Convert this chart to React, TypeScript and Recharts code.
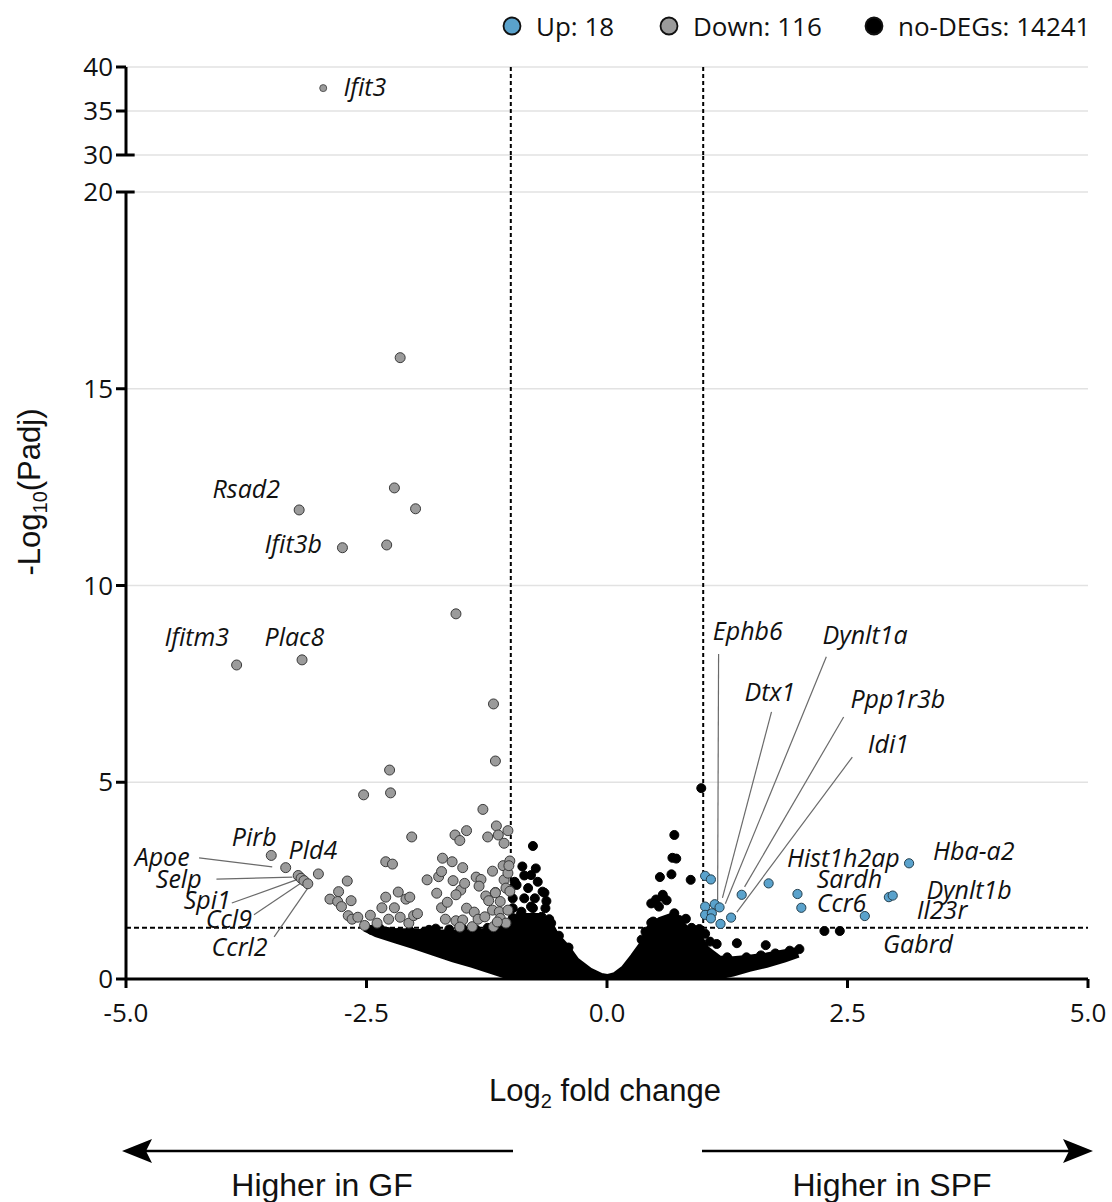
import React from 'react';
import { ComposedChart, Scatter, Area, XAxis, YAxis, CartesianGrid, ReferenceLine } from 'recharts';

// axis ticks
const xTicks = [-5, -2.5, 0, 2.5, 5];
const lowerYTicks = [0, 5, 10, 15, 20];
const upperYTicks = [30, 35, 40];

// significant genes, [log2FC, -log10 padj]
const upGenes: [number, number][] = [
    [1.02, 2.62], [1.08, 2.53], [1.02, 1.84], [1.12, 1.9], [1.17, 1.82], [1.02, 1.63], [1.09, 1.67],
    [1.08, 1.54], [1.18, 1.4], [1.29, 1.56], [1.4, 2.14], [1.68, 2.43], [1.98, 2.16], [2.02, 1.81],
    [2.68, 1.6], [2.93, 2.08], [2.97, 2.12], [3.14, 2.94],
];

const downGenesTop: [number, number][] = [[-2.95, 37.6]];

const downGenes: [number, number][] = [
    [-2.15, 15.79], [-2.21, 12.48], [-3.2, 11.92], [-1.99, 11.95], [-2.75, 10.96], [-2.29, 11.03],
    [-1.57, 9.28], [-3.85, 7.98], [-3.17, 8.11], [-1.18, 6.99], [-1.16, 5.54], [-2.26, 5.31],
    [-2.25, 4.73], [-2.53, 4.68], [-1.29, 4.31], [-1.15, 3.89], [-1.46, 3.77], [-1.58, 3.66],
    [-1.53, 3.52], [-2.03, 3.61], [-1.24, 3.61], [-1.13, 3.66], [-1.03, 3.77], [-1.07, 3.45],
    [-3.49, 3.14], [-3.34, 2.83], [-3.21, 2.63], [-3.18, 2.56], [-3.15, 2.5], [-3.11, 2.42], [-3.0, 2.67],
    [-2.3, 2.98], [-2.23, 2.92], [-1.71, 3.07], [-1.61, 2.98], [-1.5, 2.83], [-1.19, 2.74], [-1.08, 2.88],
    [-1.01, 3.0], [-2.7, 2.49], [-2.79, 2.22], [-2.88, 2.03], [-2.8, 1.97], [-2.76, 1.84], [-2.66, 1.99],
    [-2.69, 1.61], [-2.65, 1.52], [-2.59, 1.57], [-2.52, 1.36], [-2.46, 1.62], [-2.39, 1.42], [-2.27, 1.52],
    [-2.3, 2.08], [-2.34, 1.81], [-2.21, 1.81], [-2.17, 2.21], [-2.09, 2.03], [-2.05, 2.08], [-2.15, 1.57],
    [-2.06, 1.42], [-2.01, 1.61], [-1.97, 1.66], [-1.87, 2.52], [-1.75, 2.6], [-1.72, 2.73], [-1.77, 2.18],
    [-1.72, 1.81], [-1.66, 1.95], [-1.68, 1.52], [-1.6, 2.5], [-1.52, 2.26], [-1.57, 2.14], [-1.48, 2.43],
    [-1.46, 1.8], [-1.57, 1.48], [-1.5, 1.5], [-1.53, 1.32], [-1.4, 1.33], [-1.38, 1.7], [-1.34, 1.52],
    [-1.36, 2.59], [-1.31, 2.53], [-1.33, 2.36], [-1.26, 2.11], [-1.23, 1.99], [-1.19, 1.75], [-1.27, 1.58],
    [-1.16, 2.2], [-1.11, 1.97], [-1.12, 1.71], [-1.18, 1.33], [-1.07, 2.52], [-1.05, 2.31], [-1.03, 2.69],
    [-1.11, 1.54], [-1.05, 1.42], [-1.16, 2.19], [-1.02, 2.88], [-1.01, 2.23], [-1.03, 1.75], [-1.14, 1.45],
];

// dense body of the non-significant genes: x, lower and upper edge
const noDegX = [-2.52, -2.4, -2.2, -2.0, -1.8, -1.6, -1.4, -1.2, -1.05, -0.95, -0.85, -0.7, -0.6, -0.53, -0.42, -0.32, -0.18, -0.06, 0, 0.08, 0.17, 0.27, 0.37, 0.44, 0.55, 0.69, 0.76, 0.86, 0.96, 1.03, 1.17, 1.31, 1.48, 1.66, 1.85, 1.99];
const noDegLow = [1.28, 1.14, 0.98, 0.83, 0.66, 0.5, 0.36, 0.2, 0.08, 0.03, 0, 0, 0, 0, 0, 0, 0, 0, 0, 0, 0, 0, 0, 0, 0, 0, 0, 0, 0, 0.01, 0.07, 0.14, 0.26, 0.36, 0.5, 0.62];
const noDegHigh = [1.3, 1.28, 1.22, 1.2, 1.18, 1.18, 1.18, 1.22, 1.3, 1.5, 1.6, 1.6, 1.45, 1.12, 0.82, 0.48, 0.22, 0.08, 0.05, 0.1, 0.26, 0.57, 0.91, 1.3, 1.5, 1.62, 1.45, 1.18, 1.08, 0.78, 0.52, 0.5, 0.54, 0.6, 0.68, 0.74];

// scattered non-significant genes around the body
const noDegGenes: [number, number][] = [
    [-2.45, 1.25], [-2.3, 1.2], [-2.16, 1.18], [-2.05, 1.22], [-1.95, 1.05], [-1.85, 1.25], [-1.72, 1.05],
    [-1.64, 1.26], [-1.55, 1.1], [-1.46, 1.05], [-1.36, 1.25], [-1.29, 1.1], [-1.24, 1.3], [-1.15, 1.18],
    [-1.08, 1.28], [-0.77, 3.38], [-0.88, 2.86], [-0.74, 2.81], [-0.86, 2.63], [-0.79, 2.64], [-0.72, 2.47],
    [-0.94, 2.39], [-0.82, 2.31], [-0.67, 2.22], [-0.98, 2.05], [-0.86, 2.05], [-0.75, 2.05], [-0.63, 1.98],
    [-0.77, 1.8], [-0.64, 1.8], [-0.98, 1.8], [-0.89, 1.71], [-0.68, 1.58], [-0.6, 1.52], [-0.98, 1.55],
    [-0.96, 2.47], [-0.65, 2.19], [-0.79, 1.84], [-0.58, 1.42], [-0.9, 1.62], [-0.5, 1.1], [-0.4, 0.8],
    [0.98, 4.85], [0.7, 3.66], [0.68, 3.08], [0.72, 3.06], [0.55, 2.59], [0.67, 2.66], [0.87, 2.52],
    [0.58, 2.09], [0.51, 2.02], [0.46, 1.92], [0.54, 1.84], [0.62, 2.0], [0.7, 1.67], [0.82, 1.53],
    [0.46, 1.43], [0.48, 1.46], [0.93, 1.2], [0.96, 1.27], [1.02, 1.15], [1.07, 0.95], [1.14, 0.89],
    [1.35, 0.91], [1.65, 0.86], [2.26, 1.22], [2.42, 1.22], [0.58, 2.14], [0.4, 1.2], [0.36, 1.0],
    [0.75, 1.5], [0.88, 1.3], [1.25, 0.55], [1.45, 0.55], [1.6, 0.6], [1.75, 0.65], [1.9, 0.72], [2.0, 0.76],
    [-2.36, 1.28], [-1.9, 1.2], [-1.78, 1.28], [-1.5, 1.28], [-1.4, 1.12], [-1.2, 1.24], [-1.02, 1.4],
];

// gene names, placed at their text anchor (left, middle)
const geneLabels = [
    { name: 'Rsad2', x: -4.1, y: 12.48 }, { name: 'Ifit3b', x: -3.56, y: 11.09 },
    { name: 'Ifitm3', x: -4.6, y: 8.72 }, { name: 'Plac8', x: -3.56, y: 8.72 },
    { name: 'Pirb', x: -3.9, y: 3.64 }, { name: 'Pld4', x: -3.31, y: 3.31 },
    { name: 'Apoe', x: -4.91, y: 3.13 }, { name: 'Selp', x: -4.69, y: 2.57 },
    { name: 'Spi1', x: -4.4, y: 2.03 }, { name: 'Ccl9', x: -4.17, y: 1.55 },
    { name: 'Ccrl2', x: -4.11, y: 0.84 }, { name: 'Ephb6', x: 1.1, y: 8.87 },
    { name: 'Dynlt1a', x: 2.24, y: 8.77 }, { name: 'Dtx1', x: 1.43, y: 7.32 },
    { name: 'Ppp1r3b', x: 2.53, y: 7.14 }, { name: 'Idi1', x: 2.71, y: 6.0 },
    { name: 'Hist1h2ap', x: 1.87, y: 3.1 }, { name: 'Hba-a2', x: 3.39, y: 3.28 },
    { name: 'Sardh', x: 2.18, y: 2.57 }, { name: 'Dynlt1b', x: 3.32, y: 2.29 },
    { name: 'Ccr6', x: 2.18, y: 1.96 }, { name: 'Il23r', x: 3.22, y: 1.78 },
    { name: 'Gabrd', x: 2.87, y: 0.92 },
];
const topLabels = [{ name: 'Ifit3', x: -2.74, y: 37.85 }];

// leader lines: label end -> point end
const leaders: [number, number, number, number][] = [
    [-4.24, 3.08, -3.48, 2.85], [-4.06, 2.54, -3.27, 2.59], [-3.9, 1.93, -3.23, 2.52],
    [-3.67, 1.63, -3.18, 2.44], [-3.46, 1.07, -3.11, 2.31],
    [1.16, 8.26, 1.15, 2.01], [1.71, 6.79, 1.2, 2.06], [2.28, 8.19, 1.23, 1.91],
    [2.46, 6.66, 1.43, 2.34], [2.55, 5.64, 1.35, 1.7],
];

const legendItems = [
    { label: 'Up: 18', fill: '#5aa2cc' },
    { label: 'Down: 116', fill: '#9b9b9b' },
    { label: 'no-DEGs: 14241', fill: '#000' },
];

const tickFont = "'Open Sans', 'DejaVu Sans', sans-serif";
const titleFont = "'Liberation Sans', Arial, sans-serif";
const BLUE = '#5aa2cc';
const GREY = '#9b9b9b';

const toPts = (arr: [number, number][]) => arr.map(([x, y]) => ({ x, y }));
const bandData = noDegX.map((x, i) => ({ x, range: [noDegLow[i], noDegHigh[i]] }));

const dot = (fill: string, stroke: string, r: number) => (p: any) =>
    <circle cx={p.cx} cy={p.cy} r={r} fill={fill} stroke={stroke} strokeWidth={1} />;

const label = (p: any) => (
    <text x={p.cx} y={p.cy} dominantBaseline="central" fontStyle="italic" fontSize={25} fontFamily={tickFont} fill="#111">
        {p.payload.name}
    </text>
);

const tickStyle = { fill: '#111', fontSize: 26, fontFamily: tickFont };
const axisProps = {
    axisLine: { stroke: '#000', strokeWidth: 3 },
    tickLine: { stroke: '#000', strokeWidth: 3 },
};
const dashed = { stroke: '#000', strokeWidth: 2, strokeDasharray: '4 3' };

function Legend() {
    const xs = [512, 669, 874];
    return (
        <g>
            {legendItems.map((it, i) => (
                <g key={it.label}>
                    <circle cx={xs[i]} cy={26} r={8.5} fill={it.fill} stroke="#111" strokeWidth={1.8} />
                    <text x={xs[i] + 24} y={26} dominantBaseline="central" fontSize={26} fontFamily={tickFont} fill="#111">{it.label}</text>
                </g>
            ))}
        </g>
    );
}

export default function App() {
    return (
        <div style={{ position: 'absolute', left: 0, top: 0, width: 1112, height: 1202, background: '#fff' }}>
            {/* lower segment 0-20 */}
            <div style={{ position: 'absolute', left: 0, top: 0 }}>
                <ComposedChart width={1112} height={1202} data={bandData} margin={{ top: 192, right: 24, bottom: 183, left: 66 }}>
                    <CartesianGrid vertical={false} stroke="#e2e2e2" strokeWidth={1.5} />
                    <XAxis type="number" dataKey="x" domain={[-5, 5]} ticks={xTicks} allowDataOverflow height={40}
                        tickFormatter={(v) => v.toFixed(1)} tickSize={9} tickMargin={16} tick={tickStyle} {...axisProps} />
                    <YAxis type="number" dataKey="y" domain={[0, 20]} ticks={lowerYTicks} allowDataOverflow width={60}
                        tickSize={10} tickMargin={3} tick={tickStyle} {...axisProps} />
                    <ReferenceLine y={1.3} stroke="#000" strokeWidth={2} strokeDasharray="5 3" />
                    <ReferenceLine segment={[{ x: -1, y: 0 }, { x: -1, y: 21 }]} ifOverflow="visible" {...dashed} />
                    <ReferenceLine segment={[{ x: 1, y: 0 }, { x: 1, y: 21 }]} ifOverflow="visible" {...dashed} />
                    <ReferenceLine segment={[{ x: -5, y: 20 }, { x: -4.91, y: 20 }]} stroke="#000" strokeWidth={3} />
                    {leaders.map(([x1, y1, x2, y2], i) => (
                        <ReferenceLine key={i} segment={[{ x: x1, y: y1 }, { x: x2, y: y2 }]} ifOverflow="visible" stroke="#6a6a6a" strokeWidth={1.2} />
                    ))}
                    <Area type="linear" dataKey="range" fill="#000" fillOpacity={1} stroke="#000" strokeWidth={6} dot={false} activeDot={false} isAnimationActive={false} />
                    <Scatter data={toPts(noDegGenes)} shape={dot('#000', '#000', 4.5)} isAnimationActive={false} />
                    <Scatter data={toPts(downGenes)} shape={dot(GREY, '#3a3a3a', 5)} isAnimationActive={false} />
                    <Scatter data={toPts(upGenes)} shape={dot(BLUE, '#24404f', 4.6)} isAnimationActive={false} />
                    <Scatter data={geneLabels} shape={label} isAnimationActive={false} />
                </ComposedChart>
            </div>
            {/* upper segment 30-40 */}
            <div style={{ position: 'absolute', left: 0, top: 0 }}>
                <ComposedChart width={1112} height={175} margin={{ top: 67, right: 24, bottom: 20, left: 66 }}>
                    <CartesianGrid vertical={false} stroke="#e2e2e2" strokeWidth={1.5} />
                    <XAxis type="number" dataKey="x" domain={[-5, 5]} ticks={xTicks} allowDataOverflow hide />
                    <YAxis type="number" dataKey="y" domain={[30, 40]} ticks={upperYTicks} allowDataOverflow width={60}
                        tickSize={10} tickMargin={3} tick={tickStyle} {...axisProps} />
                    <ReferenceLine x={-1} {...dashed} />
                    <ReferenceLine x={1} {...dashed} />
                    <ReferenceLine segment={[{ x: -5, y: 30 }, { x: -4.91, y: 30 }]} stroke="#000" strokeWidth={3} />
                    <Scatter data={toPts(downGenesTop)} shape={dot(GREY, '#555', 3.5)} isAnimationActive={false} />
                    <Scatter data={topLabels} shape={label} isAnimationActive={false} />
                </ComposedChart>
            </div>
            {/* titles, arrows, legend */}
            <svg width={1112} height={1202} style={{ position: 'absolute', left: 0, top: 0, pointerEvents: 'none' }}>
                <Legend />
                <text transform="translate(40,492) rotate(-90)" textAnchor="middle" fontSize={31} fontFamily={titleFont} fill="#111">
                    -Log<tspan fontSize={20} dy={7}>10</tspan><tspan dy={-7}>(Padj)</tspan>
                </text>
                <text x={605} y={1101} textAnchor="middle" fontSize={31} fontFamily={titleFont} fill="#111">
                    Log<tspan fontSize={20} dy={7}>2</tspan><tspan dy={-7}> fold change</tspan>
                </text>
                <line x1={513} y1={1151} x2={140} y2={1151} stroke="#000" strokeWidth={2.5} />
                <path d="M122,1151 L152,1139 L146,1151 L152,1163 Z" fill="#000" />
                <line x1={702} y1={1151} x2={1075} y2={1151} stroke="#000" strokeWidth={2.5} />
                <path d="M1093,1151 L1063,1139 L1069,1151 L1063,1163 Z" fill="#000" />
                <text x={322} y={1196} textAnchor="middle" fontSize={32} fontFamily={titleFont} fill="#111">Higher in GF</text>
                <text x={892} y={1196} textAnchor="middle" fontSize={32} fontFamily={titleFont} fill="#111">Higher in SPF</text>
            </svg>
        </div>
    );
}
